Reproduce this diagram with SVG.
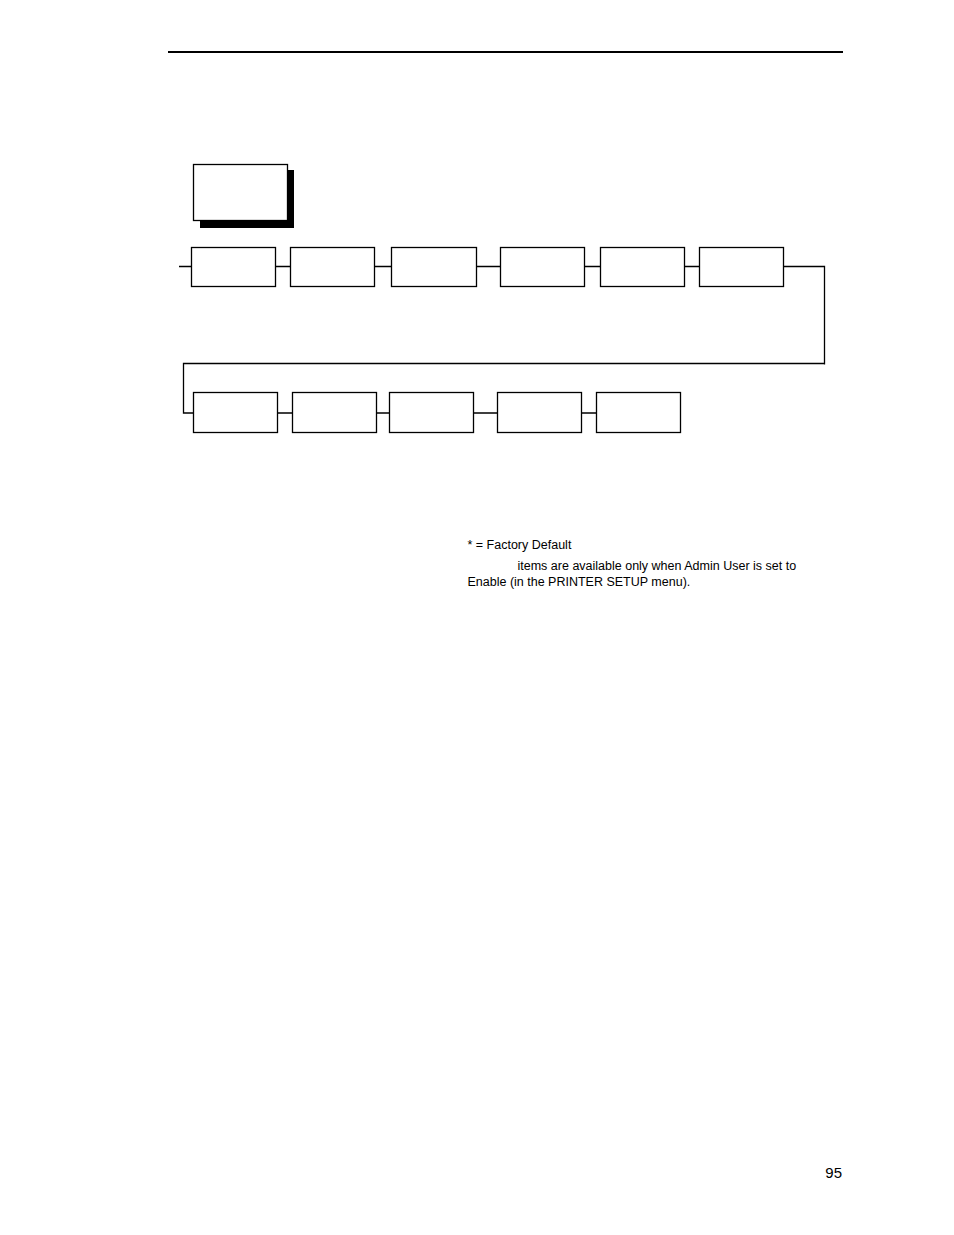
<svg xmlns="http://www.w3.org/2000/svg" width="954" height="1235" viewBox="0 0 954 1235">
<style>
.box{fill:#fff;stroke:#000;stroke-width:1.3}
.ln{fill:none;stroke:#000;stroke-width:1.3}
.t{font-family:"Liberation Sans",Arial,sans-serif;font-size:12.5px;fill:#000}
</style>
<rect width="954" height="1235" fill="#fff"/>
<line x1="168" y1="52" x2="843" y2="52" stroke="#000" stroke-width="2"/>
<g id="connectors">
<path class="ln" d="M179 266.5H191.5M275.5 266.5H290.5M374.5 266.5H391.5M476.5 266.5H500.5M584.5 266.5H600.5M684.5 266.5H699.5"/>
<path class="ln" d="M783.5 266.5H824.5V364.5M824.5 363.5H183.5V413H193.5"/>
<path class="ln" d="M277.5 413H292.5M376.5 413H389.5M473.5 413H497.5M581.5 413H596.5"/>
</g>
<g id="title">
<rect x="200" y="170" width="94" height="58" fill="#000"/>
<rect class="box" x="193.5" y="164.5" width="94" height="56"/>
</g>
<g id="n1"><rect class="box" x="191.5" y="247.5" width="84" height="39"/></g>
<g id="n2"><rect class="box" x="290.5" y="247.5" width="84" height="39"/></g>
<g id="n3"><rect class="box" x="391.5" y="247.5" width="85" height="39"/></g>
<g id="n4"><rect class="box" x="500.5" y="247.5" width="84" height="39"/></g>
<g id="n5"><rect class="box" x="600.5" y="247.5" width="84" height="39"/></g>
<g id="n6"><rect class="box" x="699.5" y="247.5" width="84" height="39"/></g>
<g id="n7"><rect class="box" x="193.5" y="392.5" width="84" height="40"/></g>
<g id="n8"><rect class="box" x="292.5" y="392.5" width="84" height="40"/></g>
<g id="n9"><rect class="box" x="389.5" y="392.5" width="84" height="40"/></g>
<g id="n10"><rect class="box" x="497.5" y="392.5" width="84" height="40"/></g>
<g id="n11"><rect class="box" x="596.5" y="392.5" width="84" height="40"/></g>
<text class="t" x="467.5" y="549">* = Factory Default</text>
<text class="t" x="517.5" y="570">items are available only when Admin User is set to</text>
<text class="t" x="467.5" y="586">Enable (in the PRINTER SETUP menu).</text>
<text x="842" y="1178" text-anchor="end" font-family="Liberation Sans,Arial,sans-serif" font-size="15" fill="#000">95</text>
</svg>
